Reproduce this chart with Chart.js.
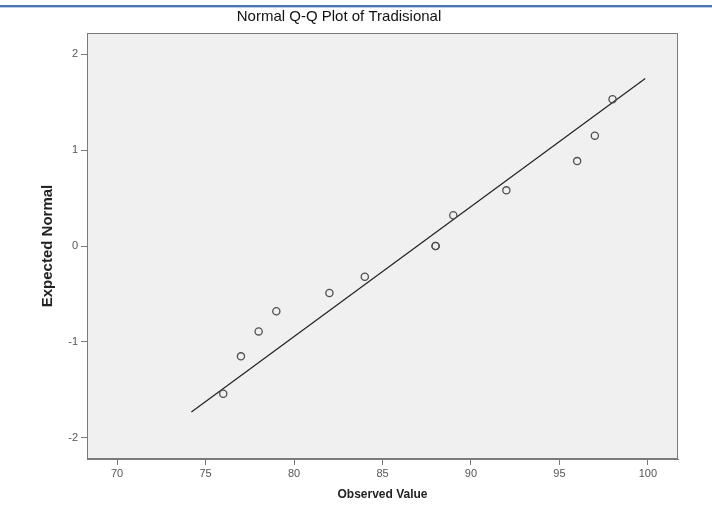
<!DOCTYPE html>
<html>
<head>
<meta charset="utf-8">
<script src="https://cdn.jsdelivr.net/npm/chart.js@4.4.0/dist/chart.umd.min.js"></script>
<style>
  body { margin: 0; background: #fff; }
  #wrap { position: relative; width: 712px; height: 507px; }
  #topRule { position: absolute; left: 0; top: 5px; width: 712px; height: 2px; background: #4a76b0; border-bottom: 1px solid #b9cde6; }
  canvas { position: absolute; left: 0; top: 0; }
</style>
</head>
<body>
<div id="wrap">
  <canvas id="qqChart" width="712" height="507"></canvas>
  <div id="topRule"></div>
</div>
<script>
const observedValues = [76, 77, 78, 79, 82, 84, 88, 88, 89, 92, 96, 97, 98];
const expectedNormal = [-1.54, -1.15, -0.89, -0.68, -0.49, -0.32, 0, 0, 0.32, 0.58, 0.885, 1.15, 1.53];
const lineX = [74.2, 99.85];
const lineY = [-1.73, 1.745];
const xTicks = [70, 75, 80, 85, 90, 95, 100];
const yTicks = [-2, -1, 0, 1, 2];

const chartContext = document.getElementById('qqChart').getContext('2d');

const plotBackground = {
    id: 'plotBackground',
    beforeDraw(chart) {
        const { ctx, chartArea } = chart;
        ctx.save();
        ctx.fillStyle = '#f0f0f0';
        ctx.fillRect(chartArea.left, chartArea.top, chartArea.right - chartArea.left, chartArea.bottom - chartArea.top);
        ctx.restore();
    },
    afterDraw(chart) {
        const { ctx, chartArea } = chart;
        ctx.save();
        ctx.strokeStyle = '#7a7a7a';
        ctx.lineWidth = 1;
        ctx.strokeRect(chartArea.left + 0.5, chartArea.top + 0.5, chartArea.right - chartArea.left - 1, chartArea.bottom - chartArea.top - 1);
        ctx.restore();
    }
};

const points = observedValues.map((x, i) => ({ x: x, y: expectedNormal[i] }));
const linePoints = lineX.map((x, i) => ({ x: x, y: lineY[i] }));

new Chart(chartContext, {
    type: 'scatter',
    data: {
        datasets: [{
            label: 'Expected Normal',
            data: points,
            pointStyle: 'circle',
            pointRadius: 3.6,
            pointBackgroundColor: 'rgba(0,0,0,0)',
            pointBorderColor: '#505050',
            pointBorderWidth: 1.3,
            order: 1
        }, {
            type: 'line',
            label: 'Line',
            data: linePoints,
            borderColor: '#222',
            borderWidth: 1.2,
            pointRadius: 0,
            fill: false,
            order: 2
        }]
    },
    plugins: [plotBackground],
    options: {
        responsive: false,
        animation: false,
        layout: { padding: { left: 0, right: 34, top: 0, bottom: 0 } },
        plugins: {
            legend: { display: false },
            tooltip: { enabled: false },
            title: {
                display: true,
                text: 'Normal Q-Q Plot of Tradisional',
                color: '#111',
                font: { family: 'Liberation Sans, Arial, sans-serif', size: 15, weight: 'normal' },
                padding: { top: 8, bottom: 7 }
            }
        },
        scales: {
            x: {
                type: 'linear',
                min: 68.3,
                max: 101.7,
                afterBuildTicks: scale => { scale.ticks = xTicks.map(v => ({ value: v })); },
                afterFit: scale => { scale.height = 48; },
                grid: { display: true, drawOnChartArea: false, drawTicks: true, tickLength: 6, color: '#7a7a7a' },
                border: { display: true, color: '#7a7a7a' },
                ticks: { color: '#555', padding: 2, font: { family: 'Liberation Sans, Arial, sans-serif', size: 11 } },
                title: {
                    display: true,
                    text: 'Observed Value',
                    color: '#222',
                    font: { family: 'Liberation Sans, Arial, sans-serif', size: 12, weight: 'bold' },
                    padding: { top: 0, bottom: 5 }
                }
            },
            y: {
                type: 'linear',
                min: -2.22,
                max: 2.22,
                afterBuildTicks: scale => { scale.ticks = yTicks.map(v => ({ value: v })); },
                afterFit: scale => { scale.width = 87; },
                grid: { display: true, drawOnChartArea: false, drawTicks: true, tickLength: 6, color: '#7a7a7a' },
                border: { display: true, color: '#7a7a7a' },
                ticks: { color: '#555', padding: 3, font: { family: 'Liberation Sans, Arial, sans-serif', size: 11 } },
                title: {
                    display: true,
                    text: 'Expected Normal',
                    color: '#222',
                    font: { family: 'Liberation Sans, Arial, sans-serif', size: 15, weight: 'bold' },
                    padding: { top: 39, bottom: 0 }
                }
            }
        }
    }
});
</script>
</body>
</html>
